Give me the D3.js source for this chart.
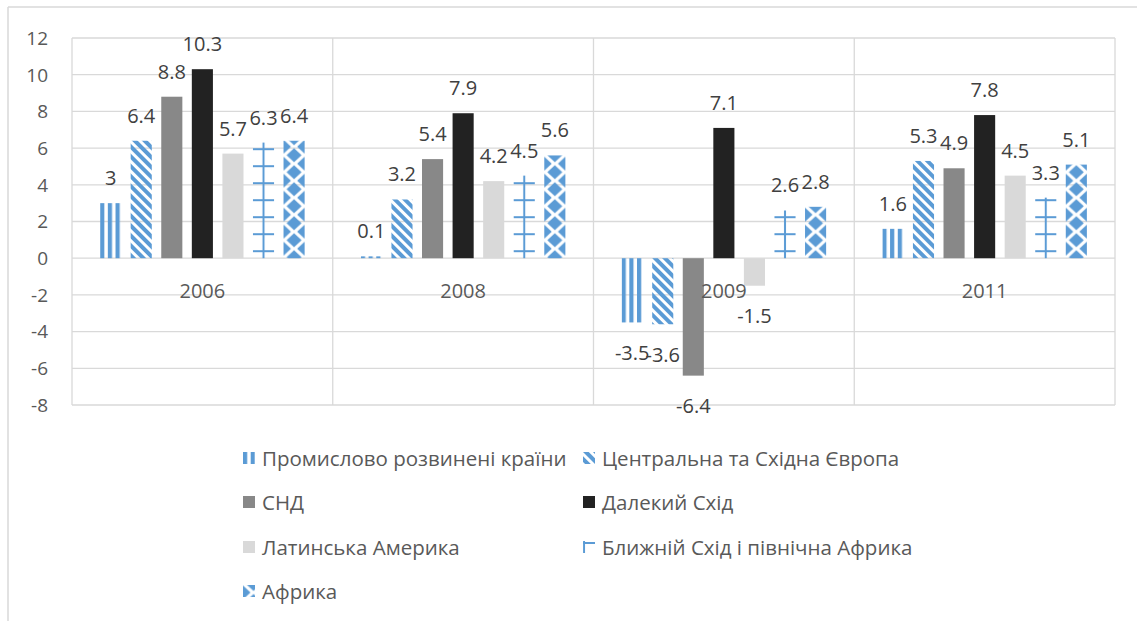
<!DOCTYPE html>
<html><head><meta charset="utf-8">
<script src="https://cdn.jsdelivr.net/npm/d3@7"></script>
<style>
html,body{margin:0;padding:0;background:#fff;}
svg{display:block;}
text{font-family:"Open Sans",sans-serif;}
</style></head>
<body>
<svg id="chart" width="1137" height="621"></svg>
<script>
// ---- data ----
const years = ["2006", "2008", "2009", "2011"];
const seriesNames = [
  "Промислово розвинені країни",
  "Центральна та Східна Європа",
  "СНД",
  "Далекий Схід",
  "Латинська Америка",
  "Ближній Схід і північна Африка",
  "Африка"
];
const industrial = [3, 0.1, -3.5, 1.6];
const centralEastEurope = [6.4, 3.2, -3.6, 5.3];
const cis = [8.8, 5.4, -6.4, 4.9];
const farEast = [10.3, 7.9, 7.1, 7.8];
const latinAmerica = [5.7, 4.2, -1.5, 4.5];
const middleEastNorthAfrica = [6.3, 4.5, 2.6, 3.3];
const africa = [6.4, 5.6, 2.8, 5.1];
const yTicks = [-8, -6, -4, -2, 0, 2, 4, 6, 8, 10, 12];

const seriesValues = [industrial, centralEastEurope, cis, farEast, latinAmerica, middleEastNorthAfrica, africa];
const fills = ["url(#pVert)", "url(#pDiag)", "#888888", "#222222", "#d9d9d9", "url(#pPlus)", "url(#pDiamond)"];

// ---- layout ----
const svg = d3.select("#chart");
const plot = {left: 72, right: 1115, top: 38, bottom: 405};
const grid = "#d9d9d9";
const blue = "#5b9bd5";
const fs = 20;

const x0 = d3.scaleBand().domain(years).range([plot.left, plot.right]).paddingInner(0).paddingOuter(0);
const x1 = d3.scaleBand().domain(d3.range(seriesNames.length)).range([0, x0.bandwidth()]).paddingInner(0.31).paddingOuter(0.92);
const y = d3.scaleLinear().domain([-8, 12]).range([plot.bottom, plot.top]);

// ---- patterns ----
const defs = svg.append("defs");
const pv = defs.append("pattern").attr("id", "pVert").attr("patternUnits", "userSpaceOnUse").attr("width", 7.7).attr("height", 10);
pv.append("rect").attr("x", 0).attr("y", 0).attr("width", 4.2).attr("height", 10).attr("fill", blue);

const pd = defs.append("pattern").attr("id", "pDiag").attr("patternUnits", "userSpaceOnUse").attr("width", 7).attr("height", 10).attr("patternTransform", "rotate(-45)");
pd.append("rect").attr("x", 0).attr("y", 0).attr("width", 4).attr("height", 10).attr("fill", blue);

const pp = defs.append("pattern").attr("id", "pPlus").attr("patternUnits", "userSpaceOnUse").attr("width", x1.bandwidth()).attr("height", 17);
pp.append("rect").attr("x", x1.bandwidth() / 2 - 1).attr("y", 0).attr("width", 2).attr("height", 17).attr("fill", blue);
pp.append("rect").attr("x", 0).attr("y", 9).attr("width", x1.bandwidth()).attr("height", 2).attr("fill", blue);

const bw = x1.bandwidth();
const pdm = defs.append("pattern").attr("id", "pDiamond").attr("patternUnits", "userSpaceOnUse").attr("width", bw).attr("height", 17).attr("y", -9.5);
const dia = (cx, cy) => `M${cx - 7.5},${cy} L${cx},${cy - 7} L${cx + 7.5},${cy} L${cx},${cy + 7} Z`;
pdm.append("path").attr("d", [dia(bw / 2, 8.5), dia(0, 0), dia(bw, 0), dia(0, 17), dia(bw, 17)].join(" ")).attr("fill", blue);

// ---- outer chart border ----
svg.append("line").attr("x1", 8).attr("x2", 1137).attr("y1", 7).attr("y2", 7).attr("stroke", grid).attr("stroke-width", 1.5);
svg.append("line").attr("x1", 8).attr("x2", 8).attr("y1", 7).attr("y2", 621).attr("stroke", grid).attr("stroke-width", 1.5);

// ---- gridlines ----
svg.append("g").selectAll("line").data(yTicks).join("line")
  .attr("x1", plot.left).attr("x2", plot.right)
  .attr("y1", d => y(d)).attr("y2", d => y(d))
  .attr("stroke", grid).attr("stroke-width", 1.3);
const seps = years.map(d => x0(d)).concat([plot.right]);
svg.append("g").selectAll("line").data(seps).join("line")
  .attr("x1", d => d).attr("x2", d => d)
  .attr("y1", plot.top).attr("y2", plot.bottom)
  .attr("stroke", grid).attr("stroke-width", 1.3);

// ---- y tick labels ----
svg.append("g").selectAll("text").data(yTicks).join("text")
  .attr("x", 48).attr("y", d => y(d)).attr("dy", "0.36em")
  .attr("text-anchor", "end").attr("font-size", 19).attr("fill", "#595959")
  .text(d => d);

// ---- bars ----
const barData = [];
seriesValues.forEach((vals, si) => vals.forEach((v, ci) => barData.push({si, ci, v})));
const y0 = y(0);
const bars = svg.append("g").selectAll("g").data(barData).join("g")
  .attr("transform", d => `translate(${x0(years[d.ci]) + x1(d.si)},${y0})`);
bars.append("rect")
  .attr("x", 0)
  .attr("y", d => Math.min(y(d.v), y0) - y0)
  .attr("width", bw)
  .attr("height", d => Math.abs(y(d.v) - y0))
  .attr("fill", d => fills[d.si]);

// ---- category labels ----
svg.append("g").selectAll("text").data(years).join("text")
  .attr("x", d => x0(d) + x0.bandwidth() / 2).attr("y", 297.5)
  .attr("text-anchor", "middle").attr("font-size", fs).attr("fill", "#595959")
  .text(d => d);

// ---- data labels ----
svg.append("g").selectAll("text").data(barData).join("text")
  .attr("x", d => x0(years[d.ci]) + x1(d.si) + bw / 2)
  .attr("y", d => d.v >= 0 ? y(d.v) - 18 : y(d.v) + 37.5)
  .attr("text-anchor", "middle").attr("font-size", fs).attr("fill", "#404040")
  .text(d => String(d.v));

// ---- legend ----
const legendPos = [[243, 466], [583, 466], [243, 510], [583, 510], [243, 555], [583, 555], [243, 599]];
const lg = svg.append("g").selectAll("g").data(seriesNames).join("g")
  .attr("transform", (d, i) => `translate(${legendPos[i][0]},${legendPos[i][1]})`);
lg.append("g").attr("transform", (d, i) => i === 5 ? "translate(-9.5,-22)" : "translate(0,-14)")
  .append("rect")
  .attr("x", (d, i) => i === 5 ? 9.5 : 0)
  .attr("y", (d, i) => i === 5 ? 8 : 0)
  .attr("width", 12).attr("height", 12).attr("fill", (d, i) => fills[i]);
lg.append("text").attr("x", 19).attr("y", 0).attr("font-size", 20.5).attr("fill", "#595959").text(d => d);
</script>
</body></html>
